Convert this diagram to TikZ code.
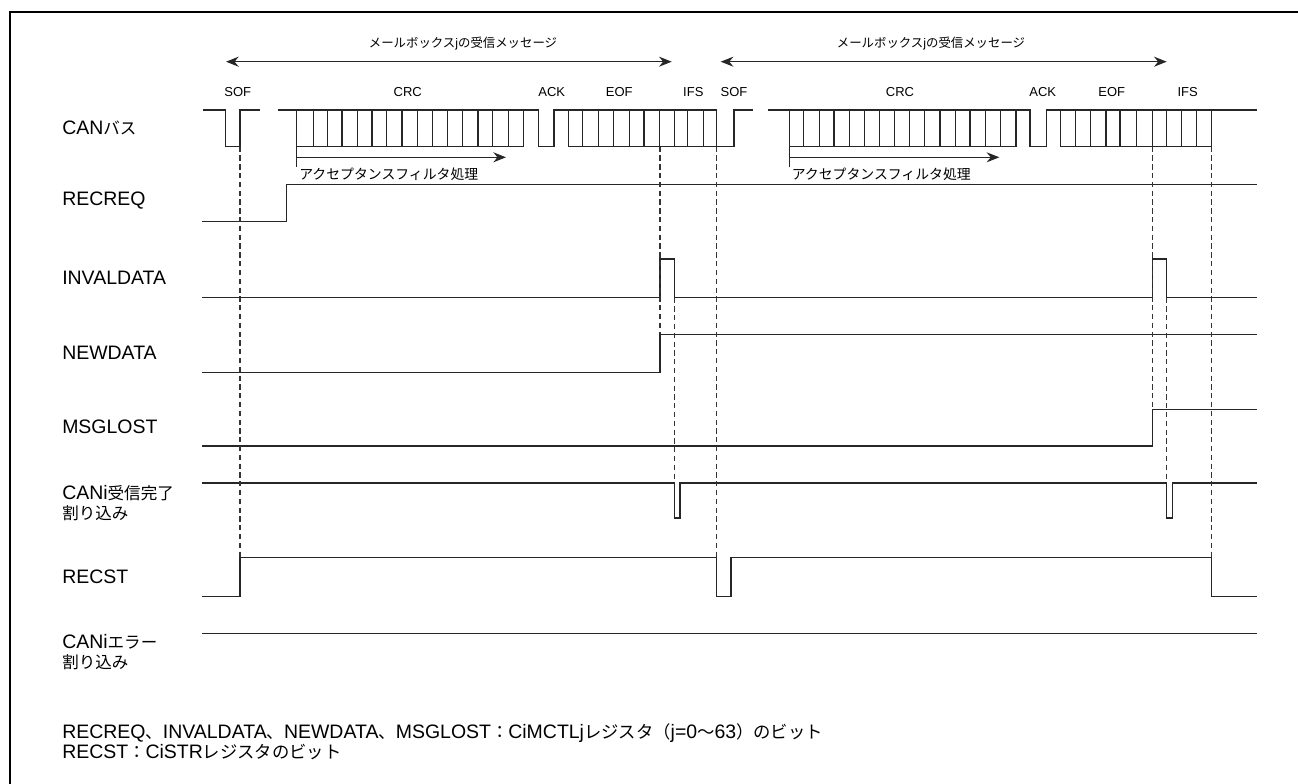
\documentclass[tikz,border=0pt]{standalone}
\usepackage{fontspec}
\setmainfont{Liberation Sans}
\newfontfamily\jpfont{Noto Sans CJK JP}
\usetikzlibrary{arrows.meta}
\newcommand{\jpn}[1]{{\jpfont\fontsize{12.4}{15}\selectfont #1}}
\newcommand{\jpf}[1]{{\jpfont\fontsize{13}{15}\selectfont #1}}
\begin{document}
\begin{tikzpicture}[x=0.75pt,y=-0.75pt,
  sig/.style={line width=0.95pt, draw=black!85, line join=miter},
  guide/.style={line width=0.9pt, draw=black!80, dash pattern=on 4pt off 2.6pt},
  lbl/.style={anchor=west, font=\fontsize{14.6}{15}\selectfont, inner sep=0pt, align=left},
  small/.style={font=\fontsize{9.75}{11}\selectfont, inner sep=0pt},
  jtop/.style={font=\fontsize{9.3}{11}\selectfont\jpfont, inner sep=0pt},
  jacc/.style={font=\fontsize{10.4}{11}\selectfont\jpfont, inner sep=0pt, anchor=west},
  arr/.style={sig, -{Stealth[length=9.5pt,width=7.5pt]}},
  darr/.style={sig, {Stealth[length=9.5pt,width=7.5pt]}-{Stealth[length=9.5pt,width=7.5pt]}}]
\useasboundingbox (0,0) rectangle (1298,784);
\draw[line width=1.5pt] (10,784) -- (10,12) -- (1298,12);

% message arrows
\draw[darr] (226,61.7) -- (671.7,61.7);
\draw[darr] (720.7,61.7) -- (1166.7,61.7);
\node[jtop] (msg1) at (463,44) {メールボックス{\rmfamily j}の受信メッセージ};
\node[jtop] (msg2) at (931,44) {メールボックス{\rmfamily j}の受信メッセージ};

% field labels
\node[small] (sof1) at (237.7,91.7) {SOF};
\node[small] (crc1) at (407.7,91.7) {CRC};
\node[small] (ack1) at (551.7,91.7) {ACK};
\node[small] (eof1) at (619.3,91.7) {EOF};
\node[small] (ifs1) at (693.3,91.7) {IFS};
\node[small] (sof2) at (734,91.7) {SOF};
\node[small] (crc2) at (900,91.7) {CRC};
\node[small] (ack2) at (1042.7,91.7) {ACK};
\node[small] (eof2) at (1111.7,91.7) {EOF};
\node[small] (ifs2) at (1187.7,91.7) {IFS};

% CAN bus frame 1
\draw[sig] (202.7,110) -- (225.7,110) -- (225.7,146.7) -- (240,146.7) -- (240,110) -- (260,110);
\draw[sig] (278.3,110) -- (538.3,110) -- (538.3,146.7) -- (554,146.7) -- (554,110) -- (716.7,110);
\draw[sig] (296.7,146.7) -- (523.3,146.7);
\foreach \x in {296.7,313.3,327.3,342,357.3,372,386.7,402,417.3,432.7,447.3,462.7,478,492.7,508.7,523.3}
  \draw[sig] (\x,110) -- (\x,146.7);
\draw[sig] (568.3,146.7) -- (734,146.7) -- (734,110) -- (752.7,110);
\foreach \x in {568.3,582.7,598.7,613.3,629.3,644,659.3,674.3,687.3,703.3,716.7}
  \draw[sig] (\x,110) -- (\x,146.7);

% CAN bus frame 2
\draw[sig] (768.3,110) -- (1030,110) -- (1030,146.7) -- (1046.7,146.7) -- (1046.7,110) -- (1257.3,110);
\draw[sig] (789.3,146.7) -- (1016,146.7);
\foreach \x in {789.3,803.3,819.3,834,849.3,864.7,879.3,894.7,909.3,924.7,940,955.3,970,985.3,1000.7,1016}
  \draw[sig] (\x,110) -- (\x,146.7);
\draw[sig] (1060.7,146.7) -- (1211.7,146.7);
\foreach \x in {1060.7,1075.3,1090.7,1106,1120,1136.7,1152.3,1166.7,1181.7,1196.7,1211.7}
  \draw[sig] (\x,110) -- (\x,146.7);

% acceptance filter
\draw[sig] (296.7,146.7) -- (296.7,167);
\draw[arr] (296.7,157.3) -- (506,157.3);
\node[jacc] (af1) at (299,174.3) {アクセプタンスフィルタ処理};
\draw[sig] (789.3,146.7) -- (789.3,167);
\draw[arr] (789.3,157.3) -- (999.3,157.3);
\node[jacc] (af2) at (791.5,174.3) {アクセプタンスフィルタ処理};

% signals
\draw[sig] (202.3,221.7) -- (286.7,221.7) -- (286.7,184.5) -- (1257.3,184.5);
\draw[sig] (202.3,297.5) -- (660,297.5) -- (660,259) -- (674.3,259) -- (674.3,297.5) -- (1152.7,297.5) -- (1152.7,259) -- (1166.7,259) -- (1166.7,297.5) -- (1257.3,297.5);
\draw[sig] (202.3,372.7) -- (660,372.7) -- (660,334.3) -- (1257.3,334.3);
\draw[sig] (202.3,446) -- (1152.7,446) -- (1152.7,409.3) -- (1257.3,409.3);
\draw[sig] (202.3,483) -- (674.3,483) -- (674.3,518) -- (680,518) -- (680,483) -- (1166.7,483) -- (1166.7,518) -- (1172.7,518) -- (1172.7,483) -- (1257.3,483);
\draw[sig] (202.3,596.7) -- (240,596.7) -- (240,557.3) -- (716.7,557.3) -- (716.7,596.7) -- (731,596.7) -- (731,557.3) -- (1211.7,557.3) -- (1211.7,596.7) -- (1257.3,596.7);
\draw[sig] (202.3,633.3) -- (1257.3,633.3);

% guides
\draw[guide] (240,146.7) -- (240,557.3);
\draw[guide] (660,146.7) -- (660,334.3);
\draw[guide] (674.3,297.5) -- (674.3,483);
\draw[guide] (716.7,146.7) -- (716.7,557.3);
\draw[guide] (1152.7,146.7) -- (1152.7,409.3);
\draw[guide] (1166.7,297.5) -- (1166.7,483);
\draw[guide] (1211.7,146.7) -- (1211.7,557.3);

% labels
\node[lbl] (lcan) at (62,128) {CAN\jpn{バス}};
\node[lbl] (lrecreq) at (62,201) {RECREQ};
\node[lbl] (linval) at (62,278) {INVALDATA};
\node[lbl] (lnew) at (62,353) {NEWDATA};
\node[lbl] (lmsg) at (62,427) {MSGLOST};
\node[lbl] (lrx) at (62,503) {CANi\jpn{受信完了}\\\jpn{割り込み}};
\node[lbl] (lrecst) at (62,577) {RECST};
\node[lbl] (lerr) at (62,652) {CANi\jpn{エラー}\\\jpn{割り込み}};

% footer
\node[lbl] (f1) at (62,733) {RECREQ\jpf{、}INVALDATA\jpf{、}NEWDATA\jpf{、}MSGLOST\jpf{：}CiMCTLj\jpf{レジスタ（}j=0\jpf{〜}63\jpf{）のビット}};
\node[lbl] (f2) at (62,752) {RECST\jpf{：}CiSTR\jpf{レジスタのビット}};
\end{tikzpicture}
\end{document}
